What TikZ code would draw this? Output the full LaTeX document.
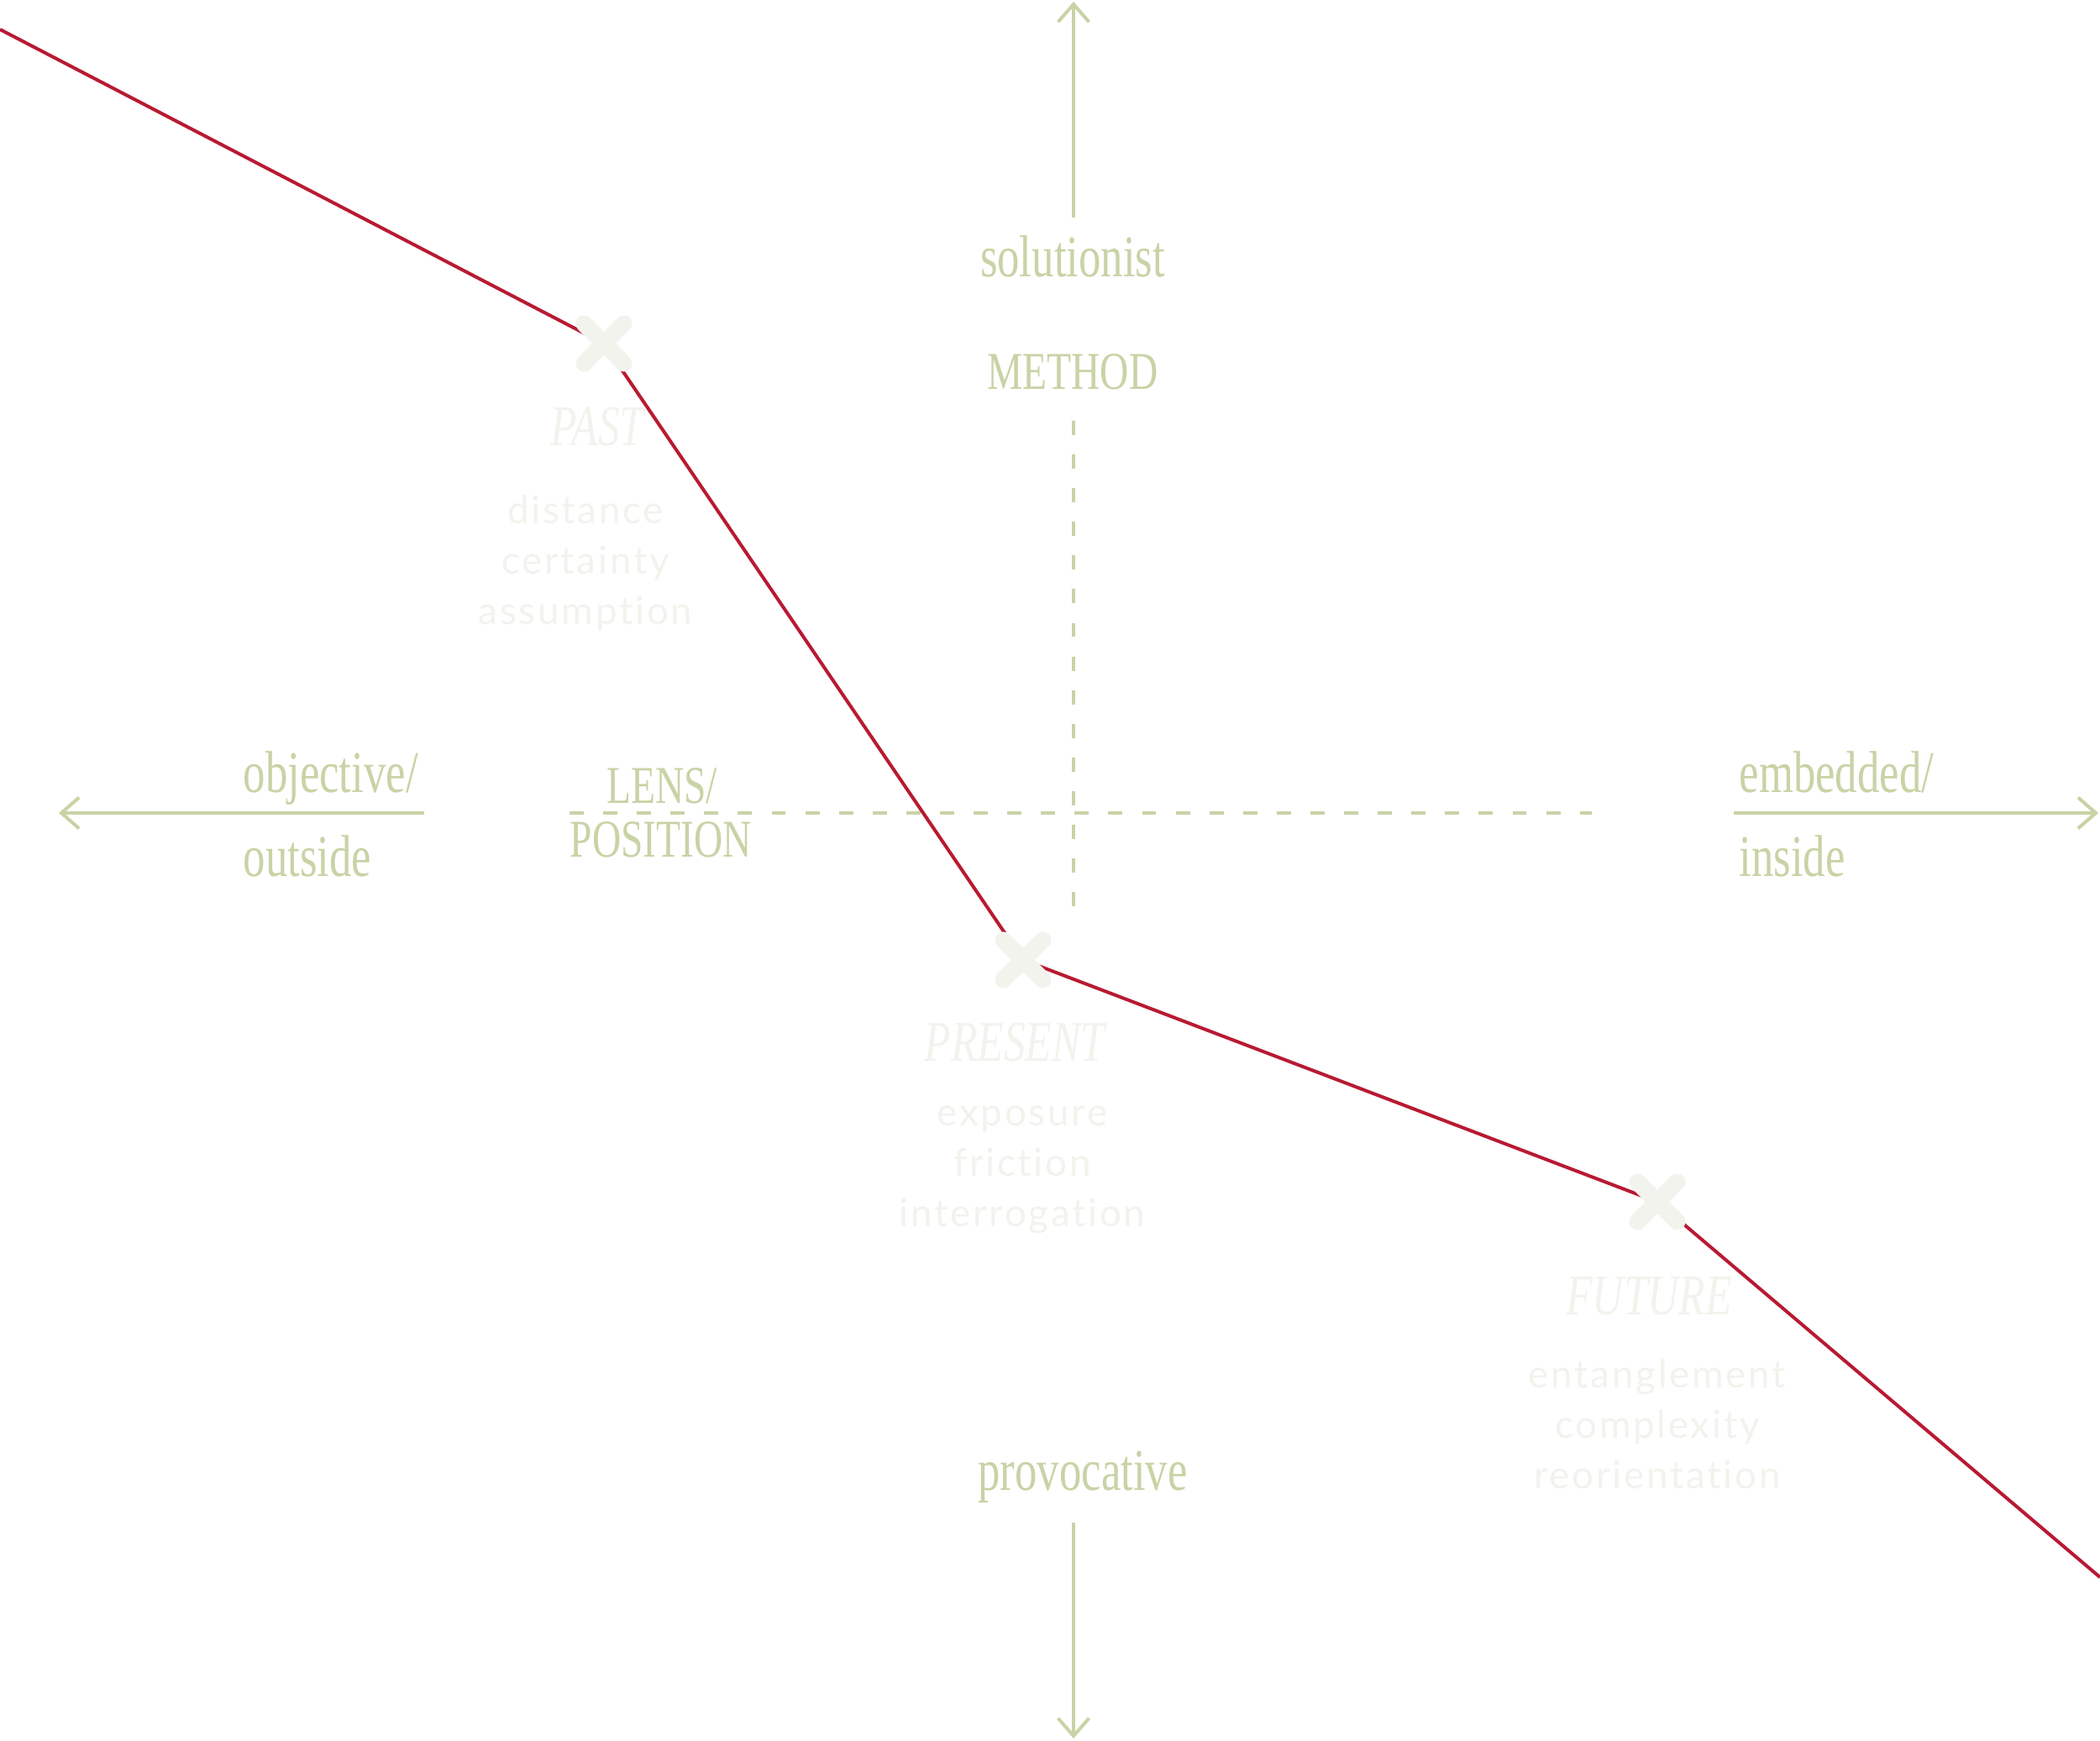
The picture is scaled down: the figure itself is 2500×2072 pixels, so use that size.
\documentclass[tikz,border=0pt]{standalone}
\usepackage{fontspec}
\usetikzlibrary{arrows.meta,shapes.misc}
\newfontfamily\dispfont[FakeStretch=0.75]{Liberation Serif}
\newfontfamily\thinfont[LetterSpace=6,Ligatures={NoCommon,NoRequired,NoContextual}]{Lato}
\definecolor{axisgreen}{HTML}{C8D3A6}
\definecolor{pathred}{HTML}{B81A32}
\definecolor{faint}{HTML}{F2F3ED}
\begin{document}
\begin{tikzpicture}[x=0.01cm,y=-0.01cm,
  axis/.style={draw=axisgreen, line width=1.14pt, -{Straight Barb[length=6pt,width=10.5pt]}},
  guide/.style={draw=axisgreen, line width=1pt, dash pattern=on 4.8pt off 6.6pt},
  redpath/.style={draw=pathred, line width=1.14pt, line join=round},
  xmark/.style={cross out, draw=faint, line width=5.7pt, line cap=round, minimum size=0.47cm, inner sep=0pt, outer sep=0pt},
  glabel/.style={text=axisgreen, inner sep=0pt, anchor=base, font=\dispfont\fontsize{20pt}{24pt}\selectfont},
  caplabel/.style={text=axisgreen, inner sep=0pt, anchor=base, font=\dispfont\fontsize{18pt}{22pt}\selectfont},
  era/.style={text=faint, inner sep=0pt, anchor=base, font=\dispfont\itshape\fontsize{19.5pt}{22pt}\selectfont},
  word/.style={text=faint, inner sep=0pt, anchor=base, font=\thinfont\fontsize{13pt}{16pt}\selectfont}]
\useasboundingbox (0,0) rectangle (2500,2072);

% axes
\coordinate (upS) at (1278,259);   \coordinate (upE) at (1278,2);
\coordinate (dnS) at (1278,1813);  \coordinate (dnE) at (1278,2070);
\coordinate (ltS) at (505,968);    \coordinate (ltE) at (70,968);
\coordinate (rtS) at (2064,968);   \coordinate (rtE) at (2498,968);
\draw[axis] (upS) -- (upE);
\draw[axis] (dnS) -- (dnE);
\draw[axis] (ltS) -- (ltE);
\draw[axis] (rtS) -- (rtE);

% dashed guides
\coordinate (vgA) at (1278,501);  \coordinate (vgB) at (1278,1098);
\coordinate (hgA) at (678,968);   \coordinate (hgB) at (1895,968);
\draw[guide] (vgA) -- (vgB);
\draw[guide] (hgA) -- (hgB);

% green labels
\node[glabel] (sol) at (1277,329) {solutionist};
\node[caplabel] (meth) at (1277,463) {METHOD};
\node[glabel] (prov) at (1289,1774) {provocative};
\node[glabel, anchor=base west] (obj) at (289,943) {objective/};
\node[glabel, anchor=base west] (outs) at (289,1043) {outside};
\node[glabel, anchor=base west] (emb) at (2070,943) {embedded/};
\node[glabel, anchor=base west] (ins) at (2070,1043) {inside};
\node[caplabel] (lens) at (788,956) {LENS/};
\node[caplabel] (posi) at (787,1020) {POSITION};

% red trajectory
\coordinate (rS) at (0,35);
\coordinate (cPast) at (719,409);
\coordinate (cPres) at (1218,1143);
\coordinate (cFut) at (1973,1431);
\coordinate (rE) at (2500,1878);
\draw[redpath] (rS) -- (cPast) -- (cPres) -- (cFut) -- (rE);

% markers
\node[xmark] (past) at (cPast) {};
\node[xmark] (present) at (cPres) {};
\node[xmark] (future) at (cFut) {};

% faint texts
\node[era] (pastT) at (711,530) {PAST};
\node[word] (pw1) at (697,623) {distance};
\node[word] (pw2) at (697,683) {certainty};
\node[word] (pw3) at (697,743) {assumption};

\node[era] (presT) at (1208,1263) {PRESENT};
\node[word] (rw1) at (1217,1340) {exposure};
\node[word] (rw2) at (1217,1400) {friction};
\node[word] (rw3) at (1217,1460) {interrogation};

\node[era] (futT) at (1963,1565) {FUTURE};
\node[word] (fw1) at (1973,1652) {entanglement};
\node[word] (fw2) at (1973,1712) {complexity};
\node[word] (fw3) at (1973,1772) {reorientation};
\end{tikzpicture}
\end{document}
